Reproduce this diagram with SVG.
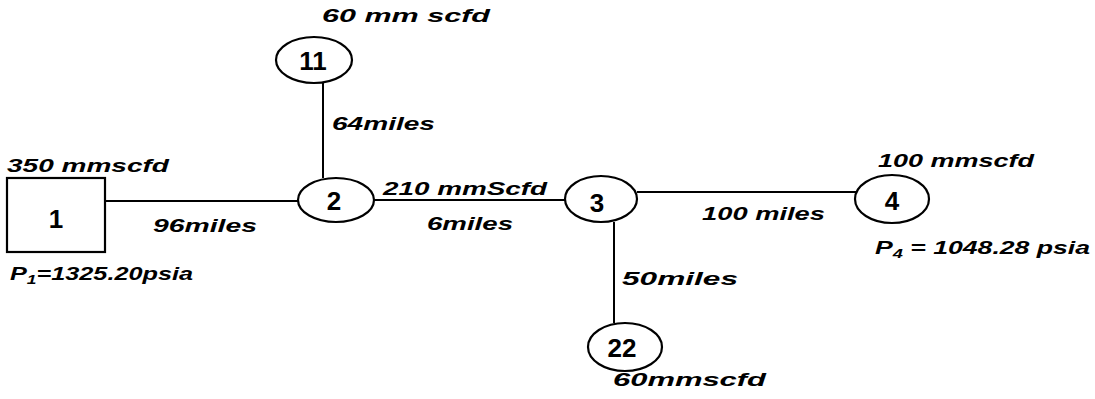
<svg xmlns="http://www.w3.org/2000/svg" width="1095" height="399" viewBox="0 0 1095 399">
  <style>
    .shape { fill: #ffffff; stroke: #000000; stroke-width: 2.2; }
    .pipe { stroke: #000000; stroke-width: 2; fill: none; }
    .lbl { font-family: "Liberation Sans", Arial, sans-serif; font-size: 19px; font-style: italic; font-weight: bold; fill: #000000; }
    .num { font-family: "Liberation Sans", Arial, sans-serif; font-size: 26px; font-weight: bold; fill: #000000; text-anchor: middle; }
  </style>
  <rect width="1095" height="399" fill="#ffffff"/>

  <!-- pipeline segments -->
  <g id="connectors">
    <line class="pipe" x1="105" y1="201" x2="298" y2="201"/>
    <line class="pipe" x1="323" y1="83" x2="323" y2="178"/>
    <line class="pipe" x1="374" y1="200" x2="565" y2="200"/>
    <line class="pipe" x1="637" y1="192" x2="856" y2="192"/>
    <line class="pipe" x1="614" y1="222" x2="614" y2="323"/>
  </g>

  <!-- segment labels -->
  <g id="segment-labels">
    <text class="lbl" x="153" y="232" textLength="104" lengthAdjust="spacingAndGlyphs">96miles</text>
    <text class="lbl" x="332" y="130" textLength="103" lengthAdjust="spacingAndGlyphs">64miles</text>
    <text class="lbl" x="383" y="195" textLength="164" lengthAdjust="spacingAndGlyphs">210 mmScfd</text>
    <text class="lbl" x="427" y="230" textLength="86" lengthAdjust="spacingAndGlyphs">6miles</text>
    <text class="lbl" x="702" y="220" textLength="123" lengthAdjust="spacingAndGlyphs">100 miles</text>
    <text class="lbl" x="622" y="285" textLength="116" lengthAdjust="spacingAndGlyphs">50miles</text>
  </g>

  <!-- source node -->
  <g id="node-1">
    <rect class="shape" x="7" y="178" width="98" height="74"/>
    <text class="num" x="56" y="228">1</text>
    <text class="lbl" x="7" y="172" textLength="162" lengthAdjust="spacingAndGlyphs">350 mmscfd</text>
    <text class="lbl" x="10" y="280" textLength="183" lengthAdjust="spacingAndGlyphs">P<tspan font-size="13" dy="4">1</tspan><tspan dy="-4">=1325.20psia</tspan></text>
  </g>

  <g id="node-11">
    <ellipse class="shape" cx="314" cy="60" rx="38" ry="23"/>
    <text class="num" x="313" y="70">11</text>
    <text class="lbl" x="322" y="22" textLength="168" lengthAdjust="spacingAndGlyphs">60 mm scfd</text>
  </g>

  <g id="node-2">
    <ellipse class="shape" cx="336" cy="200" rx="38" ry="22"/>
    <text class="num" x="334" y="210">2</text>
  </g>

  <g id="node-3">
    <ellipse class="shape" cx="601" cy="199" rx="36" ry="23"/>
    <text class="num" x="597" y="212">3</text>
  </g>

  <g id="node-22">
    <ellipse class="shape" cx="625" cy="347" rx="37" ry="24"/>
    <text class="num" x="622" y="357">22</text>
    <text class="lbl" x="613" y="386" textLength="153" lengthAdjust="spacingAndGlyphs">60mmscfd</text>
  </g>

  <g id="node-4">
    <ellipse class="shape" cx="892" cy="199" rx="37" ry="24"/>
    <text class="num" x="892" y="210">4</text>
    <text class="lbl" x="878" y="167" textLength="156" lengthAdjust="spacingAndGlyphs">100 mmscfd</text>
    <text class="lbl" x="875" y="254" textLength="215" lengthAdjust="spacingAndGlyphs">P<tspan font-size="13" dy="4">4</tspan><tspan dy="-4"> = 1048.28 psia</tspan></text>
  </g>
</svg>
